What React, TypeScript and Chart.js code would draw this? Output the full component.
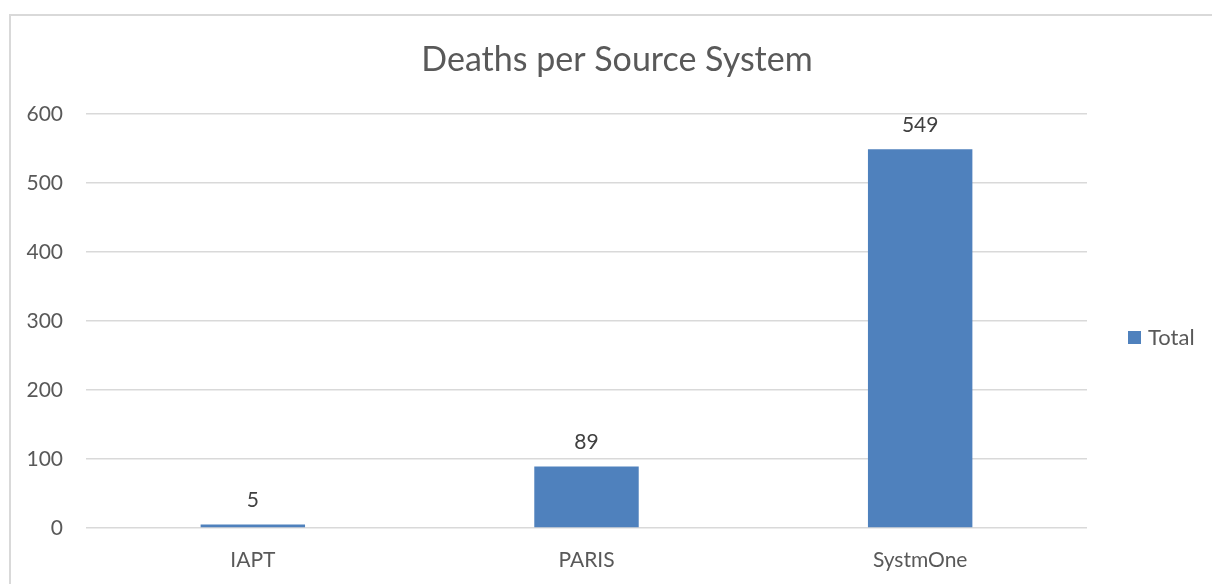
import { useEffect, useRef } from "react";
import { Chart, registerables } from "chart.js";

Chart.register(...registerables);

const chartTitle = "Deaths per Source System";
const categories = ["IAPT", "PARIS", "SystmOne"];
const seriesName = "Total";
const totals = [5, 89, 549];
const yMin = 0;
const yMax = 600;
const yStep = 100;

const FONT = "Lato";
const BAR_COLOR = "#4F81BD";
const TEXT_COLOR = "#595959";
const LABEL_COLOR = "#404040";
const GRID_COLOR = "#D9D9D9";

const valueLabels = {
  id: "valueLabels",
  afterDatasetsDraw(chart: any) {
    const ctx = chart.ctx;
    const meta = chart.getDatasetMeta(0);
    const data = chart.data.datasets[0].data;
    ctx.save();
    ctx.font = `21px ${FONT}`;
    ctx.fillStyle = LABEL_COLOR;
    ctx.textAlign = "center";
    ctx.textBaseline = "alphabetic";
    meta.data.forEach((bar: any, i: number) => {
      ctx.fillText(String(data[i]), bar.x, bar.y - 17.5);
    });
    ctx.restore();
  },
};

const sideLegend = {
  id: "sideLegend",
  afterDraw(chart: any) {
    const ctx = chart.ctx;
    const area = chart.chartArea;
    const ds = chart.data.datasets[0];
    const boxX = area.right + 41;
    const midY = (area.top + area.bottom) / 2 + 16.5;
    ctx.save();
    ctx.fillStyle = ds.backgroundColor;
    ctx.fillRect(boxX, midY - 6.5, 13, 13);
    ctx.font = `22px ${FONT}`;
    ctx.fillStyle = TEXT_COLOR;
    ctx.textAlign = "left";
    ctx.textBaseline = "middle";
    ctx.fillText(ds.label, boxX + 20, midY + 0.5);
    ctx.restore();
  },
};

export default function App() {
  const canvasRef = useRef<HTMLCanvasElement | null>(null);

  useEffect(() => {
    if (!canvasRef.current) return;
    const chart = new Chart(canvasRef.current, {
      type: "bar",
      data: {
        labels: categories,
        datasets: [
          {
            label: seriesName,
            data: totals,
            backgroundColor: BAR_COLOR,
            borderWidth: 0,
            barPercentage: 0.313,
            categoryPercentage: 1,
          },
        ],
      },
      options: {
        responsive: false,
        animation: false,
        devicePixelRatio: 1,
        layout: { padding: { left: 22, right: 0, top: 0, bottom: 11 } },
        plugins: {
          legend: { display: false },
          tooltip: { enabled: false },
          title: {
            display: true,
            text: chartTitle,
            color: TEXT_COLOR,
            font: { family: FONT, size: 34, weight: "normal", lineHeight: 1.2 },
            padding: { top: 40, bottom: 33.2 },
          },
        },
        scales: {
          x: {
            grid: { display: false, drawTicks: false },
            border: { display: false },
            ticks: {
              color: TEXT_COLOR,
              font: { family: FONT, size: 21, lineHeight: 1.2 },
              padding: 20,
            },
            afterFit: (s: any) => {
              s.height = 45;
            },
          },
          y: {
            min: yMin,
            max: yMax,
            grid: { color: GRID_COLOR, lineWidth: 1.5, drawTicks: false },
            border: { display: false },
            ticks: {
              stepSize: yStep,
              color: TEXT_COLOR,
              font: { family: FONT, size: 21, lineHeight: 1.2 },
              padding: 23,
            },
            afterFit: (s: any) => {
              s.width = 64;
            },
          },
          legendSpace: {
            type: "linear",
            position: "right",
            display: true,
            grid: { display: false, drawTicks: false },
            border: { display: false },
            ticks: { display: false },
            afterFit: (s: any) => {
              s.width = 125;
            },
          },
        },
      },
      plugins: [valueLabels, sideLegend],
    } as any);
    return () => chart.destroy();
  }, []);

  return (
    <div style={{ position: "fixed", left: 0, top: 0, width: 1212, height: 584, overflow: "hidden", background: "#fff" }}>
      <div
        style={{
          position: "absolute",
          left: 9,
          top: 14,
          width: 1400,
          height: 800,
          borderLeft: `2px solid ${GRID_COLOR}`,
          borderTop: `2px solid ${GRID_COLOR}`,
        }}
      />
      <canvas ref={canvasRef} width={1212} height={584} style={{ position: "absolute", left: 0, top: 0 }} />
    </div>
  );
}
